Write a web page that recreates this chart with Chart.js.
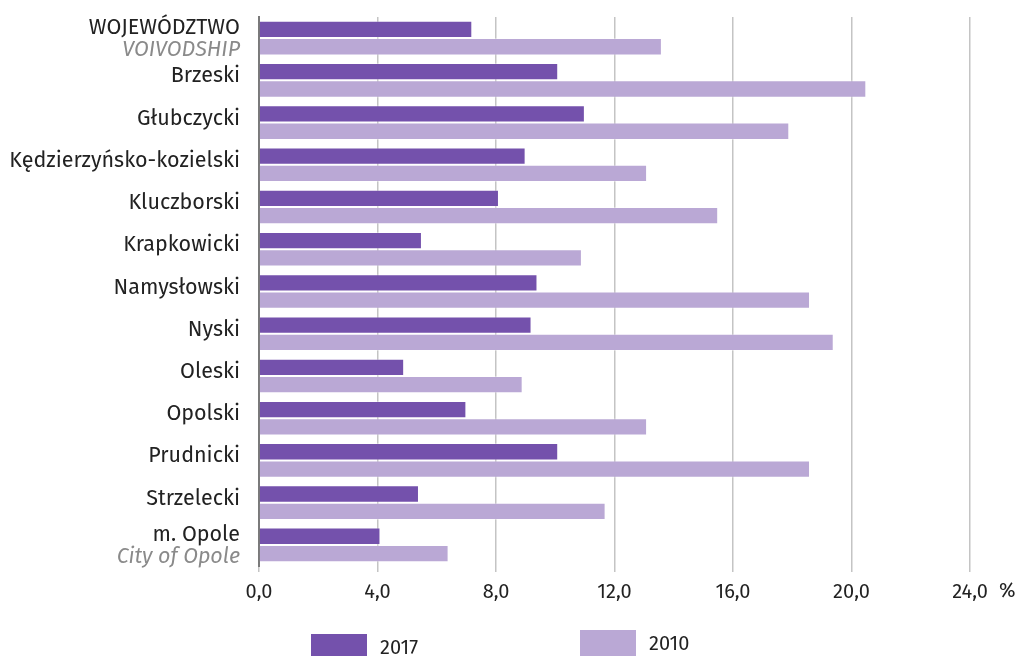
<!DOCTYPE html>
<html>
<head>
<meta charset="utf-8">
<script src="https://cdn.jsdelivr.net/npm/chart.js@4"></script>
<style>
    html, body { margin: 0; padding: 0; background: #fff; }
    #wrap { width: 1018px; height: 656px; }
</style>
</head>
<body>
<div id="wrap"><canvas id="chart" width="1018" height="656"></canvas></div>
<script>
const categories = ['WOJEWÓDZTWO', 'Brzeski', 'Głubczycki', 'Kędzierzyńsko-kozielski', 'Kluczborski', 'Krapkowicki',
    'Namysłowski', 'Nyski', 'Oleski', 'Opolski', 'Prudnicki', 'Strzelecki', 'm. Opole'];
const subtitles = ['VOIVODSHIP', '', '', '', '', '', '', '', '', '', '', '', 'City of Opole'];
const values2017 = [7.2, 10.1, 11.0, 9.0, 8.1, 5.5, 9.4, 9.2, 4.9, 7.0, 10.1, 5.4, 4.1];
const values2010 = [13.6, 20.5, 17.9, 13.1, 15.5, 10.9, 18.6, 19.4, 8.9, 13.1, 18.6, 11.7, 6.4];
const seriesLabels = ['2017', '2010'];
const xTicks = [0, 4, 8, 12, 16, 20, 24];

const FONT = '"Fira Sans", "Noto Sans", sans-serif';
const SIZE = 21.5;

// category labels on the left, with a grey italic second line where needed
const categoryLabels = {
    id: 'categoryLabels',
    afterDraw(chart) {
        const ctx = chart.ctx;
        const y = chart.scales.y;
        ctx.save();
        ctx.textAlign = 'right';
        ctx.textBaseline = 'middle';
        categories.forEach((name, i) => {
            let cy = y.getPixelForValue(i);
            let x = 240;
            if (subtitles[i]) {
                ctx.font = SIZE + 'px ' + FONT;
                ctx.fillStyle = '#222';
                ctx.fillText(name, x, cy - 10);
                ctx.font = 'italic ' + SIZE + 'px ' + FONT;
                ctx.fillStyle = '#8a8a8a';
                ctx.fillText(subtitles[i], x, cy + 12);
            } else {
                ctx.font = SIZE + 'px ' + FONT;
                ctx.fillStyle = '#222';
                ctx.fillText(name, x, cy - 4);
            }
        });
        // unit sign after the last tick
        ctx.textAlign = 'left';
        ctx.font = '20px ' + FONT;
        ctx.fillStyle = '#222';
        let last = chart.scales.x;
        ctx.fillText('%', last.getPixelForValue(xTicks[xTicks.length - 1]) + 29, 591);
        ctx.restore();
    }
};

// legend drawn below the axis
const bottomLegend = {
    id: 'bottomLegend',
    afterDraw(chart) {
        const ctx = chart.ctx;
        const spots = [{x: 311, y: 634}, {x: 580, y: 630}];
        ctx.save();
        ctx.textBaseline = 'middle';
        ctx.font = '20px ' + FONT;
        chart.data.datasets.forEach((ds, i) => {
            let s = spots[i];
            ctx.fillStyle = ds.backgroundColor;
            ctx.fillRect(s.x, s.y, 56, 26);
            ctx.fillStyle = '#222';
            ctx.fillText(ds.label, s.x + 69, s.y + 14);
        });
        ctx.restore();
    }
};

new Chart(document.getElementById('chart'), {
    type: 'bar',
    data: {
        labels: categories,
        datasets: [{
            label: seriesLabels[0],
            data: values2017,
            backgroundColor: '#7451ac',
            borderColor: 'rgba(255,255,255,0.35)',
            borderWidth: 1,
            categoryPercentage: 0.82,
            barPercentage: 1.0
        }, {
            label: seriesLabels[1],
            data: values2010,
            backgroundColor: '#baa8d5',
            borderColor: 'rgba(255,255,255,0.35)',
            borderWidth: 1,
            categoryPercentage: 0.82,
            barPercentage: 1.0
        }]
    },
    options: {
        indexAxis: 'y',
        responsive: false,
        animation: false,
        layout: {padding: {left: 0, right: 48, top: 17, bottom: 0}},
        plugins: {
            legend: {display: false},
            tooltip: {enabled: false}
        },
        scales: {
            x: {
                min: 0,
                max: 24,
                afterBuildTicks: (scale) => {
                    scale.ticks = xTicks.map(v => ({value: v}));
                },
                afterFit: (scale) => {
                    scale.height = 90;
                },
                grid: {
                    color: '#c4c4c4',
                    lineWidth: 1.5,
                    tickLength: 6,
                    drawTicks: true
                },
                border: {display: false},
                ticks: {
                    padding: 8,
                    color: '#222',
                    font: {family: FONT, size: 20},
                    maxRotation: 0,
                    callback: (v) => v.toFixed(1).replace('.', ',')
                }
            },
            y: {
                afterFit: (scale) => {
                    scale.width = 259;
                },
                grid: {display: false},
                border: {display: true, color: '#7a7a7a', width: 2},
                ticks: {display: false}
            }
        }
    },
    plugins: [categoryLabels, bottomLegend]
});
</script>
</body>
</html>
